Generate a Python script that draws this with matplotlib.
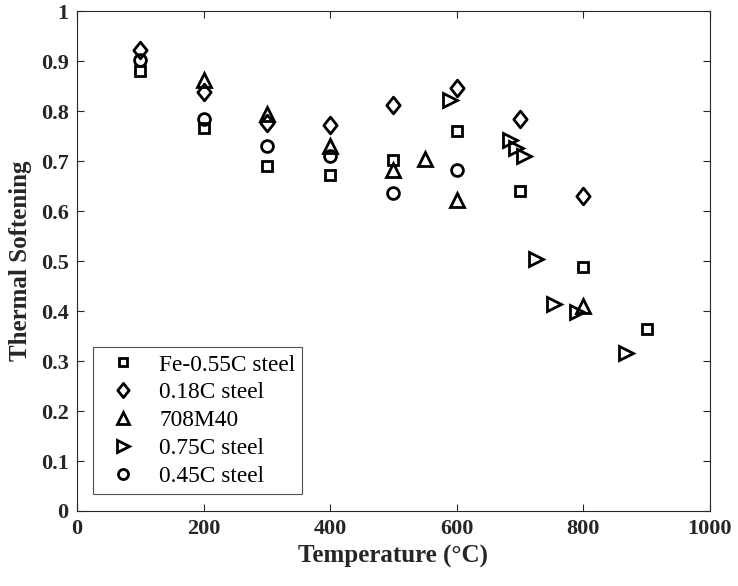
import numpy as np
import matplotlib.pyplot as plt
from matplotlib.path import Path

plt.rcParams['font.family'] = ['Liberation Serif', 'DejaVu Serif']

# thermal softening factor against temperature for each steel
temp_fe055 = [100, 200, 300, 400, 500, 600, 700, 800, 900]
soft_fe055 = [0.881, 0.767, 0.691, 0.672, 0.703, 0.761, 0.640, 0.489, 0.365]

temp_018 = [100, 200, 300, 400, 500, 600, 700, 800]
soft_018 = [0.923, 0.839, 0.777, 0.773, 0.813, 0.847, 0.785, 0.631]

temp_708 = [200, 300, 400, 500, 550, 600, 800]
soft_708 = [0.862, 0.795, 0.731, 0.682, 0.704, 0.622, 0.410]

temp_075 = [590, 684, 694, 706, 725, 754, 790, 868]
soft_075 = [0.823, 0.743, 0.727, 0.711, 0.505, 0.414, 0.399, 0.317]

temp_045 = [100, 200, 300, 400, 500, 600]
soft_045 = [0.902, 0.784, 0.731, 0.711, 0.637, 0.682]

names = ['Fe-0.55C steel', '0.18C steel', '708M40', '0.75C steel', '0.45C steel']

# matlab-style diamond, a bit narrower than it is tall
diamond = Path([(0, 1), (0.8, 0), (0, -1), (-0.8, 0), (0, 1)],
               [Path.MOVETO, Path.LINETO, Path.LINETO, Path.LINETO, Path.CLOSEPOLY])

fig = plt.figure(figsize=(7.38, 5.86), dpi=100)
ax = fig.add_axes([0.1043, 0.128, 0.8577, 0.853])

style = dict(linestyle='none', markerfacecolor='none', markeredgecolor='black',
             markeredgewidth=2)
ax.plot(temp_fe055, soft_fe055, 's', markersize=7, label=names[0], **style)
ax.plot(temp_018, soft_018, marker=diamond, markersize=12, label=names[1], **style)
ax.plot(temp_708, soft_708, '^', markersize=9.5, label=names[2], **style)
ax.plot(temp_075, soft_075, '>', markersize=9.5, label=names[3], **style)
ax.plot(temp_045, soft_045, 'o', markersize=8.5, label=names[4], **style)

ax.set_xlim(0, 1000)
ax.set_ylim(0, 1)
ax.set_xticks(np.arange(0, 1001, 200))
ax.set_yticks(np.arange(0, 1.01, 0.1))
ax.set_yticklabels(['0', '0.1', '0.2', '0.3', '0.4', '0.5', '0.6', '0.7', '0.8', '0.9', '1'])
ax.tick_params(direction='in', top=True, right=True, length=5, width=0.8,
               color='#262626', labelsize=16, pad=6)
for lbl in ax.get_xticklabels() + ax.get_yticklabels():
    lbl.set_fontweight('bold')
    lbl.set_color('#262626')
for sp in ax.spines.values():
    sp.set_color('#262626')
    sp.set_linewidth(0.8)

ax.set_xlabel('Temperature (°C)', fontsize=18, fontweight='bold', color='#262626', labelpad=4)
ax.set_ylabel('Thermal Softening', fontsize=18, fontweight='bold', color='#262626', labelpad=6)

leg = ax.legend(loc='lower left', bbox_to_anchor=(0.025, 0.034), fontsize=16.8,
                frameon=True, fancybox=False, edgecolor='#262626', borderpad=0.3,
                labelspacing=0.28, handlelength=2.0, handletextpad=0.55, borderaxespad=0)
leg.get_frame().set_linewidth(0.8)
for h in leg.legend_handles:
    h.set_markersize(h.get_markersize() * 0.85)

fig.savefig('out.png', dpi=100)
